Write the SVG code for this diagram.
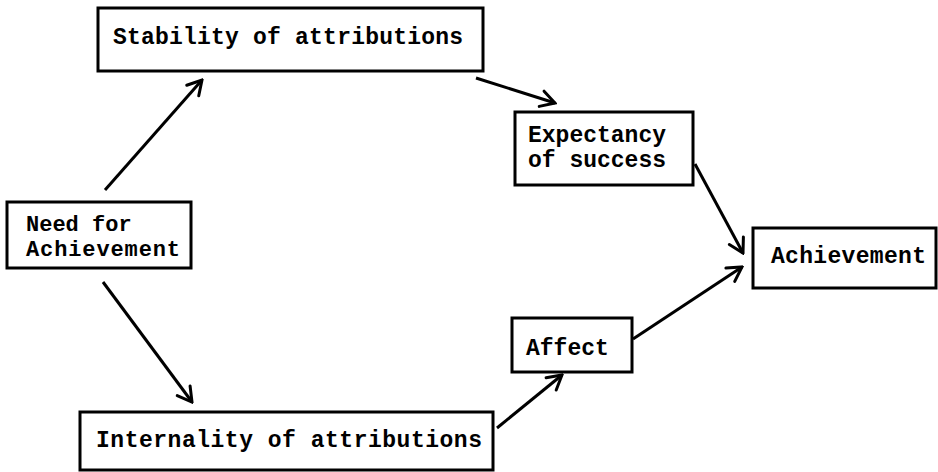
<svg xmlns="http://www.w3.org/2000/svg" width="938" height="472" viewBox="0 0 938 472">
<style>
.box{fill:#fff;stroke:#000;stroke-width:3}
.t{font-family:"Liberation Mono","Courier New",monospace;font-size:23px;font-weight:bold;fill:#000}
.c{stroke:#000;stroke-width:3;fill:none;marker-end:url(#ah)}
</style>
<defs>
<marker id="ah" viewBox="0 0 20 20" refX="18" refY="10" markerWidth="20" markerHeight="20" markerUnits="userSpaceOnUse" orient="auto">
<path d="M4,2 L18,10 L4,18" fill="none" stroke="#000" stroke-width="3" stroke-linecap="round" stroke-linejoin="miter"/>
</marker>
</defs>
<rect width="938" height="472" fill="#fff"/>
<g id="connectors">
<line class="c" x1="105" y1="190" x2="202" y2="80"/>
<line class="c" x1="476" y1="78" x2="555" y2="103"/>
<line class="c" x1="695" y1="164" x2="743" y2="253"/>
<line class="c" x1="633" y1="339" x2="742" y2="267"/>
<line class="c" x1="497" y1="428" x2="562" y2="375"/>
<line class="c" x1="103" y1="282" x2="192" y2="402"/>
</g>
<g id="stability">
<rect class="box" x="98" y="8" width="385" height="63"/>
<text class="t" x="113" y="44" textLength="350">Stability of attributions</text>
</g>
<g id="expectancy">
<rect class="box" x="515" y="112" width="178" height="73"/>
<text class="t" x="528" y="142">Expectancy</text>
<text class="t" x="528" y="167">of success</text>
</g>
<g id="need">
<rect class="box" x="7" y="202" width="184" height="66"/>
<text class="t" x="26" y="231" style="font-size:22px">Need for</text>
<text class="t" x="26" y="256" style="font-size:22px" textLength="154">Achievement</text>
</g>
<g id="achievement">
<rect class="box" x="753" y="228" width="183" height="60"/>
<text class="t" x="771" y="263" textLength="155">Achievement</text>
</g>
<g id="affect">
<rect class="box" x="512" y="318" width="120" height="54"/>
<text class="t" x="526" y="355">Affect</text>
</g>
<g id="internality">
<rect class="box" x="80" y="412" width="413" height="58"/>
<text class="t" x="96" y="447" textLength="386">Internality of attributions</text>
</g>
</svg>
